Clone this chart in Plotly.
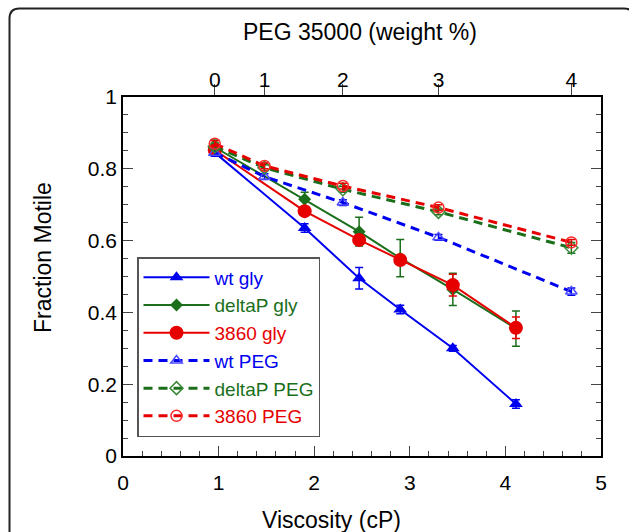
import plotly.graph_objects as go

# ---------------- data ----------------
visc_gly = [0.96, 1.90, 2.47, 2.90, 3.45, 4.11]
wt_gly = [0.845, 0.635, 0.495, 0.408, 0.300, 0.145]
wt_gly_err = [0.010, 0.012, 0.030, 0.012, 0.008, 0.012]
deltaP_gly = [0.860, 0.715, 0.625, 0.551, 0.464, 0.355]
deltaP_gly_err = [0.020, 0.020, 0.040, 0.052, 0.045, 0.049]
gly3860 = [0.852, 0.682, 0.602, 0.546, 0.476, 0.357]
gly3860_err = [0.010, 0.010, 0.010, 0.010, 0.030, 0.030]

visc_peg = [0.96, 1.48, 2.30, 3.30, 4.69]
peg_weight_labels = ["0", "1", "2", "3", "4"]
wt_peg = [0.845, 0.778, 0.706, 0.609, 0.458]
wt_peg_err = [0.010, 0.008, 0.008, 0.008, 0.010]
deltaP_peg = [0.862, 0.803, 0.743, 0.680, 0.580]
deltaP_peg_err = [0.010, 0.008, 0.008, 0.008, 0.015]
peg3860 = [0.870, 0.808, 0.752, 0.692, 0.595]
peg3860_err = [0.008, 0.008, 0.008, 0.008, 0.008]

# ---------------- style ----------------
W, H = 629, 532
L, R, T, B = 123, 28, 97, 76
PW, PH = W - L - R, H - T - B
FONT = "Liberation Sans, Arial, sans-serif"
BLUE, GREEN, RED = "#0000f0", "#1b6f1b", "#e60000"


def px(x):
    return (x - L) / PW


def py(y):
    return (H - B - y) / PH


def lab(text, color):
    return f'<span style="color:{color}">{text}</span>'


def err(arr, color):
    return dict(type="data", array=arr, color=color, thickness=1.5, width=4)


fig = go.Figure()

fig.add_trace(go.Scatter(
    x=visc_gly, y=wt_gly, error_y=err(wt_gly_err, BLUE), mode="lines+markers",
    line=dict(color=BLUE, width=2), marker=dict(symbol="triangle-up", size=12, color=BLUE),
    name=lab("wt gly", BLUE)))
fig.add_trace(go.Scatter(
    x=visc_gly, y=deltaP_gly, error_y=err(deltaP_gly_err, GREEN), mode="lines+markers",
    line=dict(color=GREEN, width=2), marker=dict(symbol="diamond", size=10, color=GREEN),
    name=lab("deltaP gly", GREEN)))
fig.add_trace(go.Scatter(
    x=visc_gly, y=gly3860, error_y=err(gly3860_err, RED), mode="lines+markers",
    line=dict(color=RED, width=2), marker=dict(symbol="circle", size=14, color=RED),
    name=lab("3860 gly", RED)))

DASH = "9px,6px"
fig.add_trace(go.Scatter(
    x=visc_peg, y=wt_peg, error_y=err(wt_peg_err, BLUE), mode="lines+markers", xaxis="x2",
    line=dict(color=BLUE, width=3, dash=DASH),
    marker=dict(symbol="triangle-up-open", size=10, color="#4a4aff", line=dict(width=1.5)),
    name=lab("wt PEG", BLUE)))
fig.add_trace(go.Scatter(
    x=visc_peg, y=deltaP_peg, error_y=err(deltaP_peg_err, GREEN), mode="lines+markers", xaxis="x2",
    line=dict(color=GREEN, width=3, dash=DASH),
    marker=dict(symbol="diamond-open", size=10, color="#3a8a3a", line=dict(width=1.5)),
    name=lab("deltaP PEG", GREEN)))
fig.add_trace(go.Scatter(
    x=visc_peg, y=peg3860, error_y=err(peg3860_err, RED), mode="lines+markers", xaxis="x2",
    line=dict(color=RED, width=3, dash=DASH),
    marker=dict(symbol="circle-open", size=11, color="#ff2a2a", line=dict(width=1.5)),
    name=lab("3860 PEG", RED)))

# outer rounded frame
r_x, r_y = 10 / PW, 10 / PH
x0, x1 = px(9.5), px(634)
y0, y1 = py(8.5), py(548)
path = (f"M{x0},{y1} L{x0},{y0 - r_y} Q{x0},{y0} {x0 + r_x},{y0} "
        f"L{x1 - r_x},{y0} Q{x1},{y0} {x1},{y0 - r_y} L{x1},{y1}")

fig.update_layout(
    width=W, height=H,
    margin=dict(l=L, r=R, t=T, b=B, pad=0),
    paper_bgcolor="white", plot_bgcolor="white",
    font=dict(family=FONT, size=21, color="black"),
    showlegend=True,
    legend=dict(x=px(137), y=py(257), xanchor="left", yanchor="top",
                bordercolor="#555555", borderwidth=1.5, bgcolor="white",
                font=dict(size=19), itemwidth=66, tracegroupgap=0),
    xaxis=dict(range=[0, 5], dtick=1, tick0=0, ticks="inside", ticklen=10, tickwidth=1.2,
               showline=True, linecolor="black", linewidth=1.5, mirror=False,
               showgrid=False, zeroline=False, ticklabelstandoff=7,
               minor=dict(dtick=0.2, ticks="inside", ticklen=5, tickwidth=1.2, showgrid=False),
               tickfont=dict(size=21)),
    xaxis2=dict(range=[0, 5], overlaying="x", side="top", tickvals=visc_peg,
                ticktext=peg_weight_labels, ticks="outside", ticklen=11, tickwidth=1.2,
                showline=True, linecolor="black", linewidth=1.5, ticklabelstandoff=-11,
                showgrid=False, zeroline=False, tickfont=dict(size=21)),
    yaxis=dict(range=[0, 1], dtick=0.2, tick0=0, ticks="inside", ticklen=10, tickwidth=1.2,
               showline=True, linecolor="black", linewidth=1.5, mirror="ticks",
               showgrid=False, zeroline=False,
               minor=dict(dtick=0.05, ticks="inside", ticklen=5, tickwidth=1.2, showgrid=False),
               tickfont=dict(size=21)),
    shapes=[dict(type="path", xref="paper", yref="paper", path=path,
                 line=dict(color="#222222", width=2), layer="above")],
    annotations=[
        dict(text="Fraction Motile", x=px(43), y=py(258), xref="paper", yref="paper",
             textangle=-90, showarrow=False, font=dict(size=23), xanchor="center", yanchor="middle"),
        dict(text="Viscosity (cP)", x=px(331), y=py(520), xref="paper", yref="paper",
             showarrow=False, font=dict(size=23), xanchor="center", yanchor="middle"),
        dict(text="PEG 35000 (weight %)", x=px(360), y=py(32), xref="paper", yref="paper",
             showarrow=False, font=dict(size=23), xanchor="center", yanchor="middle"),
    ],
)

fig.write_html("out.html", config={"displayModeBar": False},
               post_script="document.body.style.margin='0';")
